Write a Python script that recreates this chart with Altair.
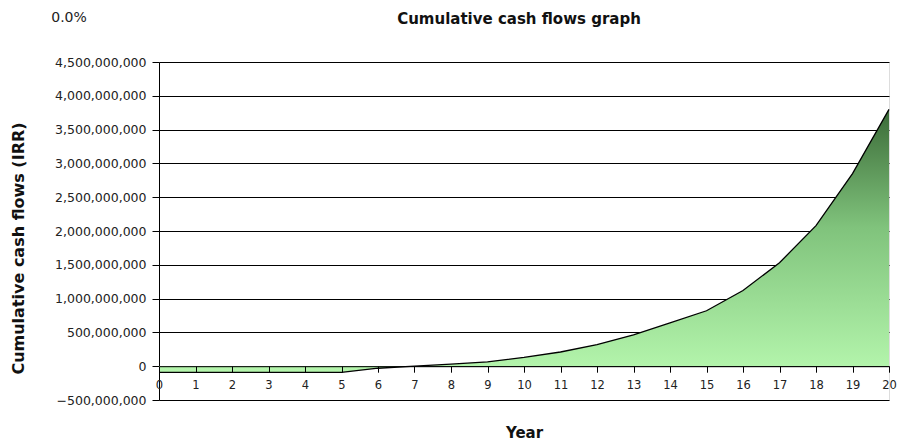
import altair as alt
import pandas as pd

years = list(range(0, 21))
cumulative = [-90e6, -90e6, -90e6, -90e6, -90e6, -90e6, -30e6, 0, 30e6, 65e6,
              130e6, 210e6, 320e6, 465e6, 640e6, 820e6, 1120e6, 1530e6, 2080e6,
              2850e6, 3800e6]
y_ticks = [-500e6 + 500e6 * i for i in range(11)]
irr_label = "0.0%"

df = pd.DataFrame({"year": years, "cf": cumulative})

W, H = 730, 338
FONT = "DejaVu Sans"

x_enc = alt.X("year:Q", scale=alt.Scale(domain=[0, 20], nice=False, zero=False),
              axis=alt.Axis(values=years, tickCount=40, format="d", title="Year", grid=False,
                            offset=-H * 0.1, domainColor="black", tickColor="black",
                            tickSize=6, labelPadding=7, labelFont=FONT, labelFontSize=11.5,
                            labelColor="#222", titleFont=FONT, titleFontSize=15,
                            titleFontWeight="bold", titleColor="#111", titlePadding=35,
                            zindex=1, labelFlush=False, labelOverlap=False))
y_enc = alt.Y("cf:Q", scale=alt.Scale(domain=[-500e6, 4500e6], nice=False),
              axis=alt.Axis(values=y_ticks, tickCount=40, format=",d",
                            title="Cumulative cash flows (IRR)",
                            gridColor="black", gridOpacity=1, gridWidth=1,
                            domainColor="black", tickColor="black", tickSize=7,
                            labelPadding=6, labelFont=FONT, labelFontSize=12.5,
                            labelColor="#222", titleFont=FONT, titleFontSize=16,
                            titleFontWeight="bold", titleColor="#111",
                            titleX=-141, titleY=186, titleAlign="center",
                            titleBaseline="middle", titleAngle=-90,
                            labelOverlap=False, labelFlush=False))

base = alt.Chart(df)

area = base.mark_area(
    color=alt.Gradient(gradient="linear",
                       stops=[alt.GradientStop(color="#3a6a37", offset=0),
                              alt.GradientStop(color="#80c37c", offset=0.45),
                              alt.GradientStop(color="#b5f6ad", offset=1)],
                       x1=1, x2=1, y1=0, y2=1),
    opacity=1).encode(x=x_enc, y=y_enc)

line = base.mark_line(color="black", strokeWidth=1.3).encode(x="year:Q", y="cf:Q")

irr = alt.Chart(pd.DataFrame({"t": [irr_label]})).mark_text(
    font=FONT, fontSize=14, color="#222", align="center", baseline="middle"
).encode(text="t:N", x=alt.value(-90), y=alt.value(-44))

chart = alt.layer(area, line, irr).properties(
    width=W, height=H,
    title=alt.TitleParams("Cumulative cash flows graph", font=FONT, fontSize=15,
                          fontWeight="bold", color="#111", anchor="middle",
                          frame="group", baseline="middle", offset=0, dy=23, dx=-5),
    autosize=alt.AutoSizeParams(type="none"),
    padding={"left": 151, "top": 54, "right": 8, "bottom": 45},
).configure_view(stroke="black", strokeWidth=1).configure(background="white")

chart.save("out.html", embed_options={"renderer": "svg", "actions": False})
